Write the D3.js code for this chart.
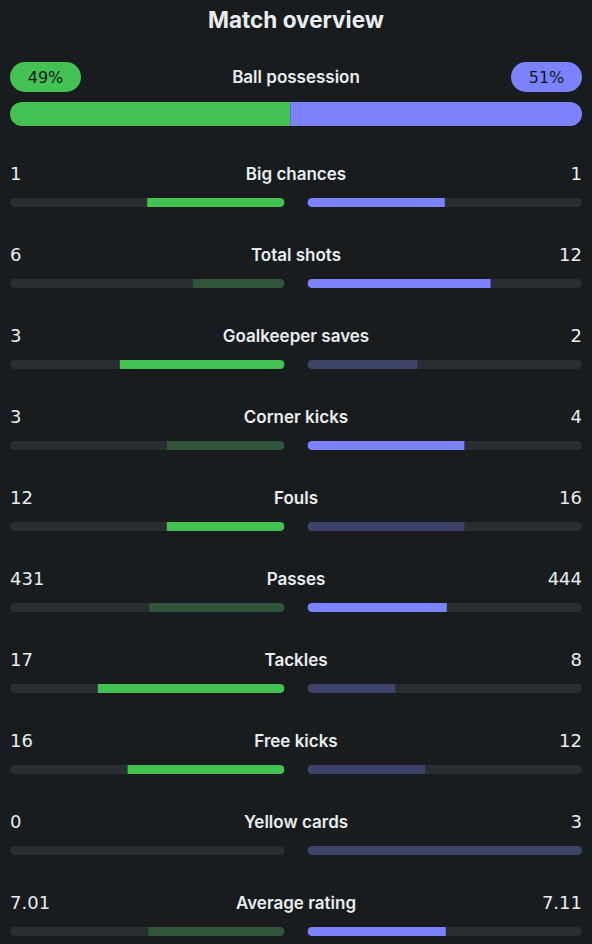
<!DOCTYPE html>
<html>
<head>
<meta charset="utf-8">
<script src="https://cdn.jsdelivr.net/npm/d3@7"></script>
<style>
  html, body { margin: 0; padding: 0; background: #181c1f; }
  svg { display: block; }
</style>
</head>
<body>
<div id="chart"></div>
<script>
// 1. DATA
const title = "Match overview"
const possessionLabel = "Ball possession"
const possession = [49, 51]

const categories = ["Big chances", "Total shots", "Goalkeeper saves", "Corner kicks", "Fouls",
  "Passes", "Tackles", "Free kicks", "Yellow cards", "Average rating"]
const homeValues = [1, 6, 3, 3, 12, 431, 17, 16, 0, 7.01]
const awayValues = [1, 12, 2, 4, 16, 444, 8, 12, 3, 7.11]
const homeLabels = ["1", "6", "3", "3", "12", "431", "17", "16", "0", "7.01"]
const awayLabels = ["1", "12", "2", "4", "16", "444", "8", "12", "3", "7.11"]
const lowerIsBetter = ["Fouls", "Yellow cards"]

// 2. DIMENSIONS
const dimensions = {
  width: 592,
  height: 944,
  margin: { left: 10, right: 10 },
  gap: 23,
  barHeight: 9,
}
dimensions.boundedWidth = dimensions.width - dimensions.margin.left - dimensions.margin.right
dimensions.half = (dimensions.boundedWidth - dimensions.gap) / 2

const colors = {
  bg: "#181c1f",
  track: "#292e32",
  homeBright: "#43c152",
  homeDim: "#30553b",
  awayBright: "#7b82fc",
  awayDim: "#3e4369",
  text: "#e9edf0",
  pillText: "#15191c",
}
const labelFont = "Inter, 'Noto Sans', sans-serif"
const numFont = "'DejaVu Sans', sans-serif"

// 3. DRAW CANVAS
const wrapper = d3.select("#chart")
  .append("svg")
  .attr("width", dimensions.width)
  .attr("height", dimensions.height)

const defs = wrapper.append("defs")

wrapper.append("text")
  .attr("x", dimensions.width / 2)
  .attr("y", 28)
  .attr("text-anchor", "middle")
  .attr("fill", colors.text)
  .style("font-family", labelFont)
  .style("font-weight", 700)
  .style("font-size", "22.5px")
  .text(title)

// 4. SCALES
const possScale = d3.scaleLinear()
  .domain([0, 100])
  .range([dimensions.margin.left, dimensions.width - dimensions.margin.right])

const rowScale = d3.scalePoint()
  .domain(categories)
  .range([174, 903])

const leftEnd = dimensions.margin.left + dimensions.half
const rightStart = leftEnd + dimensions.gap
const homeScale = d3.scaleLinear().domain([0, 1]).range([leftEnd, dimensions.margin.left])
const awayScale = d3.scaleLinear().domain([0, 1]).range([rightStart, dimensions.width - dimensions.margin.right])

// 5. POSSESSION
const poss = wrapper.append("g")
const pillW = 71, pillH = 30, pillY = 62
poss.append("rect")
  .attr("x", possScale(0)).attr("y", pillY)
  .attr("width", pillW).attr("height", pillH)
  .attr("rx", pillH / 2)
  .attr("fill", colors.homeBright)
poss.append("rect")
  .attr("x", possScale(100) - pillW).attr("y", pillY)
  .attr("width", pillW).attr("height", pillH)
  .attr("rx", pillH / 2)
  .attr("fill", colors.awayBright)
poss.selectAll("text.pill")
  .data(possession)
  .join("text")
  .attr("class", "pill")
  .attr("x", (d, i) => i === 0 ? possScale(0) + pillW / 2 : possScale(100) - pillW / 2)
  .attr("y", pillY + pillH / 2)
  .attr("dy", "0.36em")
  .attr("text-anchor", "middle")
  .attr("fill", colors.pillText)
  .style("font-family", numFont)
  .style("font-size", "16px")
  .text(d => d + "%")
poss.append("text")
  .attr("x", dimensions.width / 2)
  .attr("y", pillY + pillH / 2)
  .attr("dy", "0.35em")
  .attr("text-anchor", "middle")
  .attr("fill", colors.text)
  .style("font-family", labelFont)
  .style("font-weight", 600)
  .style("font-size", "17px")
  .text(possessionLabel)

const possY = 102, possH = 24
defs.append("clipPath").attr("id", "clip-poss")
  .append("rect")
  .attr("x", possScale(0)).attr("y", possY)
  .attr("width", possScale(100) - possScale(0)).attr("height", possH)
  .attr("rx", possH / 2)
const possBar = poss.append("g").attr("clip-path", "url(#clip-poss)")
possBar.append("rect")
  .attr("x", possScale(0)).attr("y", possY)
  .attr("width", possScale(possession[0]) - possScale(0)).attr("height", possH)
  .attr("fill", colors.homeBright)
possBar.append("rect")
  .attr("x", possScale(possession[0])).attr("y", possY)
  .attr("width", possScale(100) - possScale(possession[0])).attr("height", possH)
  .attr("fill", colors.awayBright)

// 6. STAT ROWS
const rows = categories.map((c, i) => {
  const h = homeValues[i], a = awayValues[i]
  const total = h + a
  const low = lowerIsBetter.includes(c)
  const homeWins = h === a || (low ? h < a : h > a)
  const awayWins = h === a || (low ? a < h : a > h)
  return {
    name: c, i,
    homeShare: total ? h / total : 0,
    awayShare: total ? a / total : 0,
    homeLabel: homeLabels[i],
    awayLabel: awayLabels[i],
    homeColor: homeWins ? colors.homeBright : colors.homeDim,
    awayColor: awayWins ? colors.awayBright : colors.awayDim,
  }
})

const barOffset = 24
const row = wrapper.selectAll("g.row")
  .data(rows)
  .join("g")
  .attr("class", "row")

row.append("text")
  .attr("x", dimensions.width / 2)
  .attr("y", d => rowScale(d.name))
  .attr("dy", "0.35em")
  .attr("text-anchor", "middle")
  .attr("fill", colors.text)
  .style("font-family", labelFont)
  .style("font-weight", 600)
  .style("font-size", "17px")
  .text(d => d.name)

row.append("text")
  .attr("x", dimensions.margin.left)
  .attr("y", d => rowScale(d.name))
  .attr("dy", "0.36em")
  .attr("fill", colors.text)
  .style("font-family", numFont)
  .style("font-size", "18px")
  .text(d => d.homeLabel)

row.append("text")
  .attr("x", dimensions.width - dimensions.margin.right)
  .attr("y", d => rowScale(d.name))
  .attr("dy", "0.36em")
  .attr("text-anchor", "end")
  .attr("fill", colors.text)
  .style("font-family", numFont)
  .style("font-size", "18px")
  .text(d => d.awayLabel)

// clip paths for rounded tracks
rows.forEach(d => {
  const y = rowScale(d.name) + barOffset
  defs.append("clipPath").attr("id", `clip-h-${d.i}`)
    .append("rect")
    .attr("x", homeScale(1)).attr("y", y)
    .attr("width", homeScale(0) - homeScale(1)).attr("height", dimensions.barHeight)
    .attr("rx", dimensions.barHeight / 2)
  defs.append("clipPath").attr("id", `clip-a-${d.i}`)
    .append("rect")
    .attr("x", awayScale(0)).attr("y", y)
    .attr("width", awayScale(1) - awayScale(0)).attr("height", dimensions.barHeight)
    .attr("rx", dimensions.barHeight / 2)
})

const homeBar = row.append("g").attr("clip-path", d => `url(#clip-h-${d.i})`)
homeBar.append("rect")
  .attr("x", homeScale(1))
  .attr("y", d => rowScale(d.name) + barOffset)
  .attr("width", homeScale(0) - homeScale(1))
  .attr("height", dimensions.barHeight)
  .attr("fill", colors.track)
homeBar.append("rect")
  .attr("x", d => homeScale(d.homeShare))
  .attr("y", d => rowScale(d.name) + barOffset)
  .attr("width", d => homeScale(0) - homeScale(d.homeShare))
  .attr("height", dimensions.barHeight)
  .attr("fill", d => d.homeColor)

const awayBar = row.append("g").attr("clip-path", d => `url(#clip-a-${d.i})`)
awayBar.append("rect")
  .attr("x", awayScale(0))
  .attr("y", d => rowScale(d.name) + barOffset)
  .attr("width", awayScale(1) - awayScale(0))
  .attr("height", dimensions.barHeight)
  .attr("fill", colors.track)
awayBar.append("rect")
  .attr("x", awayScale(0))
  .attr("y", d => rowScale(d.name) + barOffset)
  .attr("width", d => awayScale(d.awayShare) - awayScale(0))
  .attr("height", dimensions.barHeight)
  .attr("fill", d => d.awayColor)
</script>
</body>
</html>
